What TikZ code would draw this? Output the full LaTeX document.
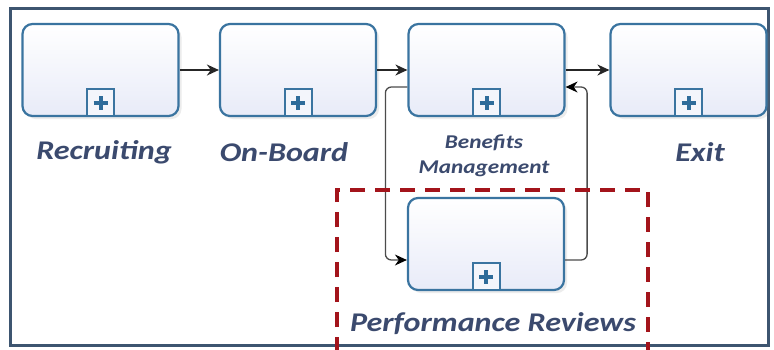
\documentclass[tikz,border=0pt]{standalone}
\usepackage{fontspec}
\newfontfamily\lblfont[FakeStretch=1.19]{Carlito}
\usetikzlibrary{arrows.meta,shadows}
\definecolor{framec}{HTML}{3D5570}
\definecolor{boxc}{HTML}{3A74A0}
\definecolor{fillc}{HTML}{E8EBF8}
\definecolor{plusc}{HTML}{2E6C9A}
\definecolor{textc}{HTML}{3B4A6E}
\definecolor{redc}{HTML}{A3141B}
\begin{document}
\begin{tikzpicture}[x=1pt,y=-1pt,
        task/.style={draw=boxc, line width=2.2pt, rounded corners=10pt,
            top color=white, bottom color=fillc,
            minimum width=156pt, minimum height=92pt,
            drop shadow={shadow xshift=3pt,shadow yshift=-3pt,opacity=.15}},
        plusbox/.style={draw=boxc, line width=2pt, fill=white!50!fillc,
            minimum size=27pt, inner sep=0pt, anchor=south},
        lbl/.style={text=textc, font=\lblfont\bfseries\itshape\fontsize{27}{29}\selectfont},
        lblsmall/.style={text=textc, align=center,
            font=\lblfont\bfseries\itshape\fontsize{19.5}{25}\selectfont},
        flow/.style={-{Stealth[length=12pt,width=11pt]}, line width=1.8pt, black!85},
        back/.style={-{Stealth[length=12pt,width=11pt,color=black]}, line width=1.3pt,
            gray!60!black, rounded corners=6pt}]
    \useasboundingbox (0,0) rectangle (774,349);
    \fill[white] (0,0) rectangle (774,349);
    \draw[framec, line width=3pt] (10.5,8.5) rectangle (768.5,345);

    \node[task] (rec) at (100.5,70) {};
    \node[task] (onb) at (298,70) {};
    \node[task] (ben) at (486.5,70) {};
    \node[task] (exi) at (688.5,70) {};
    \node[task] (per) at (486,244) {};

    \foreach \t in {rec,onb,ben,exi,per}
    {
        \node[plusbox] (\t-p) at (\t.south) {};
        \draw[plusc, line width=4pt] ([yshift=-7pt]\t-p.center) -- ([yshift=7pt]\t-p.center)
            ([xshift=-7pt]\t-p.center) -- ([xshift=7pt]\t-p.center);
    }

    \node[lbl] (rec-l) at (104,152) {Recruiting};
    \node[lbl] (onb-l) at (284,152) {On-Board};
    \node[lblsmall] (ben-l) at (484,156) {Benefits\\Management};
    \node[lbl] (exi-l) at (700,152) {Exit};
    \node[lbl] (per-l) at (493,324) {Performance Reviews};

    \draw[flow] (rec) -- (onb);
    \draw[flow] (onb) -- (ben);
    \draw[flow] (ben) -- (exi);
    \draw[back] ([yshift=-17pt]ben.west) -- ++(-22,0) |- ([yshift=-16pt]per.west);
    \draw[back] ([yshift=-16pt]per.east) -- ++(22,0) |- ([yshift=-17pt]ben.east);

    \draw[redc, line width=4pt, dash pattern=on 15pt off 10pt]
        (337,352) -- (337,190) -- (648,190) -- (648,352);
\end{tikzpicture}
\end{document}
